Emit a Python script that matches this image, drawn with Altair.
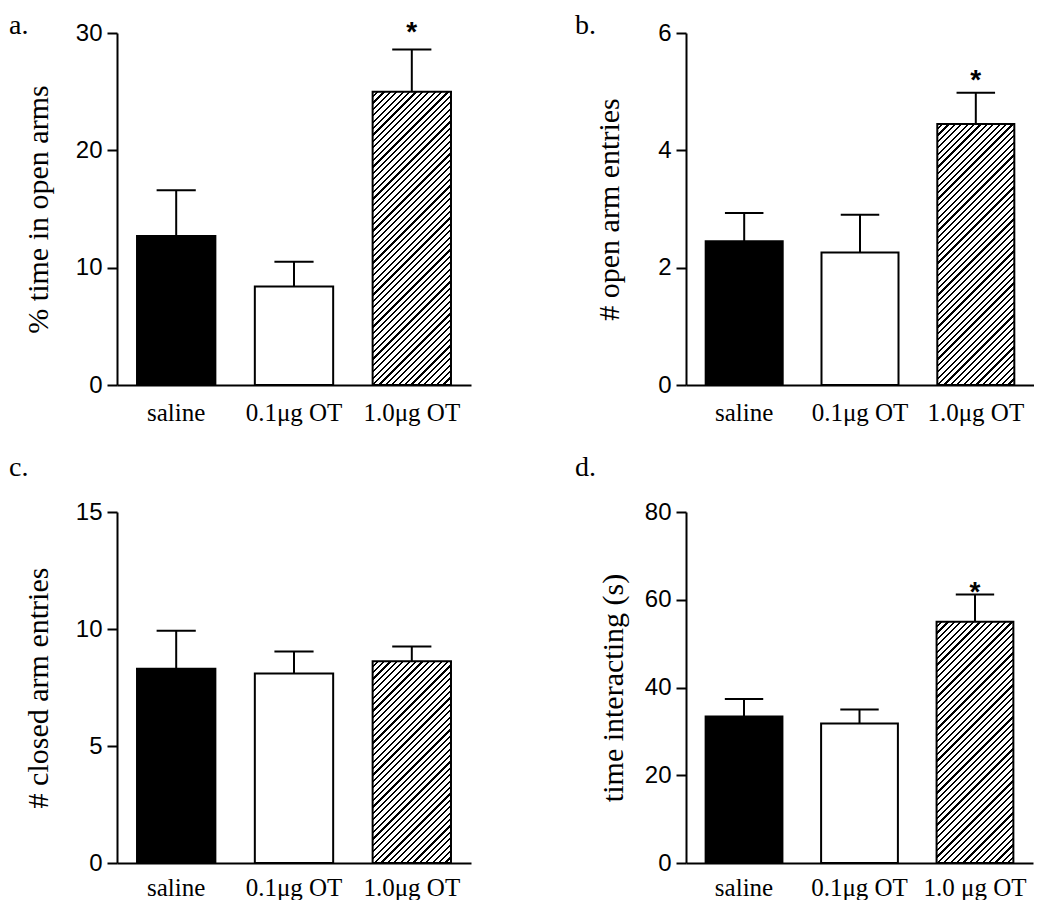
import altair as alt
import pandas as pd

# ---------------- data ----------------
groups_abc = ["saline", "0.1μg OT", "1.0μg OT"]
groups_d = ["saline", "0.1μg OT", "1.0 μg OT"]

a_mean = [12.7, 8.4, 25.0]
a_sem = [3.9, 2.1, 3.6]
b_mean = [2.45, 2.26, 4.45]
b_sem = [0.48, 0.64, 0.53]
c_mean = [8.3, 8.1, 8.62]
c_sem = [1.62, 0.94, 0.63]
d_mean = [33.4, 31.8, 55.0]
d_sem = [4.0, 3.2, 6.2]

sig_a = ["", "", "*"]
sig_b = ["", "", "*"]
sig_c = ["", "", ""]
sig_d = ["", "", "*"]

y_titles = ["% time in open arms", "# open arm entries",
            "# closed arm entries", "time interacting (s)"]
y_ticks_a = [0, 10, 20, 30]
y_ticks_b = [0, 2, 4, 6]
y_ticks_c = [0, 5, 10, 15]
y_ticks_d = [0, 20, 40, 60, 80]
panel_labels = ["a.", "b.", "c.", "d."]

# ---------------- style ----------------
SERIF = "Liberation Serif"
SANS = "Liberation Sans"
P_IN, P_OUT = 0.335, 0.17


def hatch(w, h, period=6.4, ink=0.34):
    """45-degree '/' stripes as a hard-stop linear gradient in bbox units."""
    L = w + h
    s = L / (w * w + h * h)
    stops = []
    k = 0
    while k * period < L:
        a = round(min(k * period / L, 1.0), 5)
        b = round(min((k * period + period * (1 - ink)) / L, 1.0), 5)
        c = round(min((k + 1) * period / L, 1.0), 5)
        stops += [alt.GradientStop(offset=a, color="#ffffff"),
                  alt.GradientStop(offset=b, color="#ffffff"),
                  alt.GradientStop(offset=b, color="#000000"),
                  alt.GradientStop(offset=c, color="#000000")]
        k += 1
    return alt.LinearGradient(gradient="linear", x1=0, y1=0,
                              x2=s * w, y2=s * h, stops=stops)


def panel(groups, means, sems, sigs, ymax, ticks, ytitle, label,
          W, H, title_x, lab_x, lab_y, star_dy, x_lab_pad):
    df = pd.DataFrame({"group": groups, "mean": means, "sem": sems, "sig": sigs})
    df["top"] = df["mean"] + df["sem"]

    xs = alt.Scale(domain=groups, paddingInner=P_IN, paddingOuter=P_OUT)
    xa = alt.Axis(title=None, labelAngle=0, ticks=False, tickSize=0,
                  labelPadding=x_lab_pad, labelFont=SERIF, labelFontSize=25,
                  labelColor="black", domainColor="black", domainWidth=2,
                  labelOverlap=False, grid=False)
    ys = alt.Scale(domain=[0, ymax], nice=False, zero=True)
    ya = alt.Axis(values=ticks, title=ytitle, titleFont=SERIF, titleFontSize=30,
                  titleFontWeight="normal", titleColor="black", titleAngle=270,
                  titleX=title_x, titleY=H / 2, titleAlign="center",
                  titleBaseline="middle", labelFont=SANS, labelFontSize=24,
                  labelColor="black", labelPadding=5, labelFlush=False,
                  tickSize=10, tickWidth=2, tickColor="black",
                  domainColor="black", domainWidth=2, grid=False)
    X = alt.X("group:N", scale=xs, axis=xa)
    Ymean = alt.Y("mean:Q", scale=ys, axis=ya)
    Ytop = alt.Y("top:Q", scale=ys, axis=ya)

    bw = W / (3 - P_IN + 2 * P_OUT) * (1 - P_IN)
    bh = means[2] / ymax * H

    base = alt.Chart(df)
    plain = base.transform_filter(
        alt.FieldOneOfPredicate(field="group", oneOf=groups[:2])
    ).mark_bar(stroke="black", strokeWidth=2, opacity=1).encode(
        x=X, y=Ymean,
        fill=alt.Fill("group:N", scale=alt.Scale(domain=groups[:2],
                                                 range=["#000000", "#ffffff"]),
                      legend=None))
    hatched = base.transform_filter(
        alt.FieldEqualPredicate(field="group", equal=groups[2])
    ).mark_bar(stroke="black", strokeWidth=2, opacity=1,
               fill=hatch(bw, bh)).encode(x=X, y=Ymean)
    rules = base.mark_rule(color="black", strokeWidth=2).encode(
        x=X, y=Ymean, y2="top:Q")
    caps = base.mark_tick(color="black", size=bw / 2, thickness=2,
                          opacity=1).encode(x=X, y=Ytop)
    layers = [plain, hatched, rules, caps]
    if any(sigs):
        star = base.transform_filter(alt.datum.sig != "").mark_text(
            font=SANS, fontSize=28, fontWeight="bold", color="black",
            baseline="middle", align="center", dy=star_dy
        ).encode(x=X, y=Ytop, text="sig:N")
        layers.append(star)
    lab = alt.Chart(pd.DataFrame({"lab": [label]})).mark_text(
        font=SERIF, fontSize=28, color="black", align="left",
        baseline="alphabetic"
    ).encode(x=alt.value(lab_x), y=alt.value(lab_y), text="lab:N")
    layers.append(lab)
    return alt.layer(*layers).properties(width=W, height=H)


pa = panel(groups_abc, a_mean, a_sem, sig_a, 30, y_ticks_a, y_titles[0],
           panel_labels[0], 354, 352, -79, -108, 1, -16, 15)
pb = panel(groups_abc, b_mean, b_sem, sig_b, 6, y_ticks_b, y_titles[1],
           panel_labels[1], 348, 352, -77, -111, 1, -12, 15)
pc = panel(groups_abc, c_mean, c_sem, sig_c, 15, y_ticks_c, y_titles[2],
           panel_labels[2], 354, 351, -79, -108, -36, 0, 12)
pd_ = panel(groups_d, d_mean, d_sem, sig_d, 80, y_ticks_d, y_titles[3],
            panel_labels[3], 347, 351, -73, -111, -36, -1, 12)

chart = alt.concat(
    pa, pb, pc, pd_, columns=2,
    spacing={"row": 127, "column": 215}, bounds="flush"
).properties(
    padding={"left": 1, "top": 4, "right": 0, "bottom": 0},
    background="white"
).configure_view(stroke=None)

chart.save("out.html", embed_options={"renderer": "svg", "actions": False})
